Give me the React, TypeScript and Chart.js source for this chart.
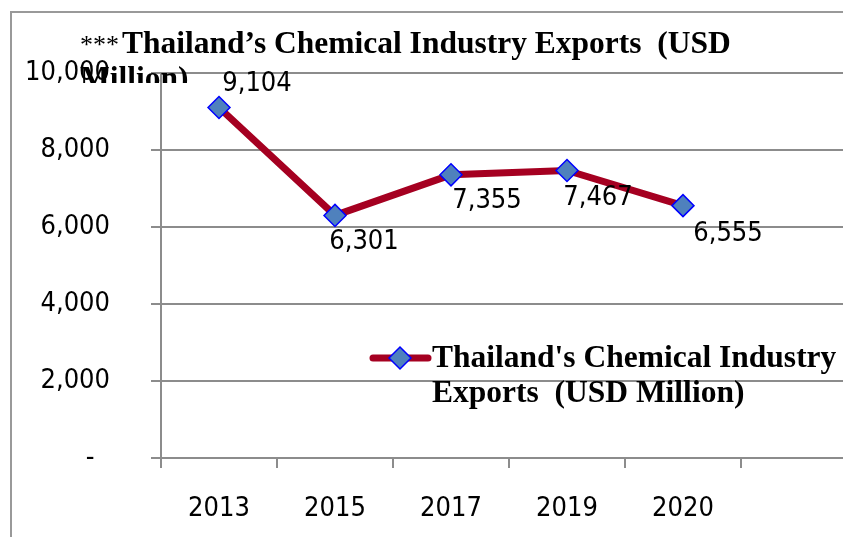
import React, { useEffect, useRef } from "react";
import { Chart, registerables } from "chart.js";

Chart.register(...registerables);

const categories = ["2013", "2015", "2017", "2019", "2020", ""];
const exportsUSDMillion = [9104, 6301, 7355, 7467, 6555, null];
const yTickValues = [0, 2000, 4000, 6000, 8000, 10000];
const titleLines = ["Thailand\u2019s Chemical Industry Exports  (USD", "Million)"];
const legendLines = ["Thailand's Chemical Industry", "Exports  (USD Million)"];
const seriesName = "Thailand's Chemical Industry Exports (USD Million)";

// label offsets (style) per point: [dx, dy]
const labelOffsets = [
  [38, -24],
  [29, 27],
  [36, 26],
  [31, 27],
  [45, 28],
];

const TICK_FONT = "'DejaVu Sans Condensed', 'Liberation Sans', sans-serif";
const SERIF = "'Liberation Serif', 'Times New Roman', serif";
const GRID = "#8C8C8C";
const LINE = "#A50021";
const MARK_FILL = "#4F81BD";
const MARK_BORDER = "#0000FF";

const W = 900;
const H = 537;

const decorPlugin = {
  id: "decor",
  beforeDraw(chart: any) {
    const ctx = chart.ctx;
    ctx.save();
    ctx.fillStyle = "#fff";
    ctx.fillRect(0, 0, W, H);
    ctx.fillStyle = "#999";
    ctx.fillRect(10, 11, 2, H);
    ctx.fillRect(10, 11, W, 2);
    ctx.restore();
  },
  afterDraw(chart: any) {
    const ctx = chart.ctx;
    const meta = chart.getDatasetMeta(0);
    // data labels
    ctx.save();
    ctx.fillStyle = "#000";
    ctx.font = `27px ${TICK_FONT}`;
    ctx.textAlign = "center";
    ctx.textBaseline = "middle";
    meta.data.forEach((pt: any, i: number) => {
      const v = exportsUSDMillion[i];
      if (v == null) return;
      const off = labelOffsets[i] || [30, 25];
      ctx.fillText(v.toLocaleString("en-US"), pt.x + off[0], pt.y + off[1]);
    });
    ctx.restore();

    // legend
    ctx.save();
    const ly = 358;
    ctx.strokeStyle = LINE;
    ctx.lineWidth = 7;
    ctx.lineCap = "round";
    ctx.beginPath();
    ctx.moveTo(373, ly);
    ctx.lineTo(428, ly);
    ctx.stroke();
    ctx.beginPath();
    const r = 11;
    ctx.moveTo(400, ly - r);
    ctx.lineTo(400 + r, ly);
    ctx.lineTo(400, ly + r);
    ctx.lineTo(400 - r, ly);
    ctx.closePath();
    ctx.fillStyle = MARK_FILL;
    ctx.fill();
    ctx.strokeStyle = MARK_BORDER;
    ctx.lineWidth = 1.5;
    ctx.stroke();
    ctx.beginPath();
    ctx.fillStyle = "#000";
    ctx.font = `bold 31.5px ${SERIF}`;
    ctx.textAlign = "left";
    ctx.textBaseline = "alphabetic";
    ctx.fillText(legendLines[0], 432, 367);
    ctx.fillText(legendLines[1], 432, 402);
    ctx.restore();

    // title
    ctx.save();
    ctx.beginPath();
    ctx.rect(0, 0, W, 83);
    ctx.clip();
    ctx.beginPath();
    ctx.fillStyle = "#000";
    ctx.textAlign = "left";
    ctx.textBaseline = "alphabetic";
    ctx.font = `26px ${SERIF}`;
    ctx.fillText("***", 80, 53);
    ctx.font = `bold 31.5px ${SERIF}`;
    ctx.fillText(titleLines[0], 122, 53);
    ctx.fillText(titleLines[1], 80, 88);
    ctx.restore();
  },
};

export default function App() {
  const ref = useRef<HTMLCanvasElement>(null);
  useEffect(() => {
    if (!ref.current) return;
    const chart = new Chart(ref.current, {
      type: "line",
      data: {
        labels: categories,
        datasets: [
          {
            label: seriesName,
            data: exportsUSDMillion,
            borderColor: LINE,
            backgroundColor: MARK_FILL,
            borderWidth: 7,
            pointStyle: "rectRot",
            pointRadius: 11,
            pointBackgroundColor: MARK_FILL,
            pointBorderColor: MARK_BORDER,
            pointBorderWidth: 1.5,
            tension: 0,
            spanGaps: false,
          },
        ],
      },
      options: {
        responsive: false,
        animation: false,
        layout: { padding: { left: 0, top: 73, right: W - 857, bottom: 0 } },
        plugins: {
          legend: { display: false },
          title: { display: false },
          tooltip: { enabled: false },
        },
        scales: {
          x: {
            offset: true,
            afterFit: (s: any) => {
              s.height = H - 458;
            },
            grid: {
              offset: true,
              drawOnChartArea: false,
              drawTicks: true,
              tickLength: 10,
              color: GRID,
              lineWidth: 2,
            },
            border: { display: true, color: GRID, width: 2 },
            ticks: {
              color: "#000",
              font: { family: TICK_FONT, size: 27 },
              padding: 25,
              maxRotation: 0,
              autoSkip: false,
            },
          },
          y: {
            min: 0,
            max: 10000,
            afterFit: (s: any) => {
              s.width = 161;
            },
            afterBuildTicks: (s: any) => {
              s.ticks = yTickValues.map((v) => ({ value: v }));
            },
            grid: {
              color: GRID,
              lineWidth: 2,
              drawTicks: true,
              tickLength: 10,
            },
            border: { display: true, color: GRID, width: 2 },
            ticks: {
              color: "#000",
              font: { family: TICK_FONT, size: 27 },
              padding: 41,
              callback: (v: any) => (Number(v) === 0 ? "-  " : Number(v).toLocaleString("en-US")),
            },
          },
        },
      },
      plugins: [decorPlugin],
    });
    return () => chart.destroy();
  }, []);
  return (
    <div
      style={{
        position: "fixed",
        left: 0,
        top: 0,
        width: 843,
        height: 537,
        overflow: "hidden",
        background: "#fff",
      }}
    >
      <canvas ref={ref} width={W} height={H} style={{ display: "block", width: W, height: H }} />
    </div>
  );
}
